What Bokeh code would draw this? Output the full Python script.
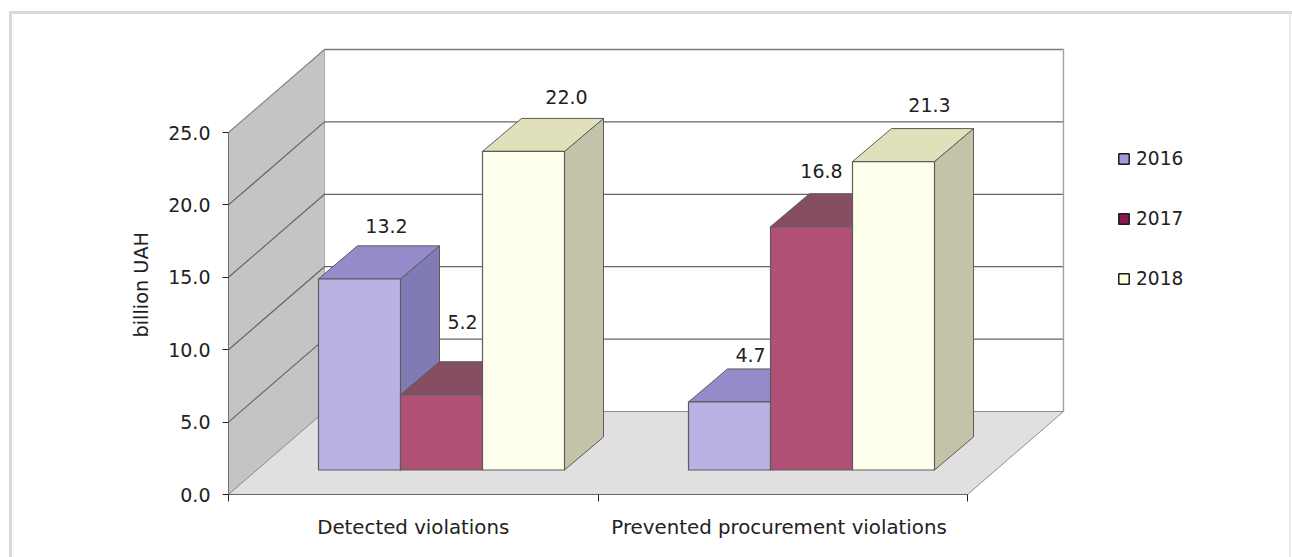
from bokeh.embed import file_html
from bokeh.resources import INLINE
from bokeh.plotting import figure
from bokeh.models import FixedTicker, NumeralTickFormatter, Legend, LegendItem, Range1d, Title
from bokeh.core.properties import value

# ---- data ----
categories = ["Detected violations", "Prevented procurement violations"]
series_names = ["2016", "2017", "2018"]
values_2016 = [13.2, 4.7]
values_2017 = [5.2, 16.8]
values_2018 = [22.0, 21.3]
label_texts = [["13.2", "4.7"], ["5.2", "16.8"], ["22.0", "21.3"]]
y_ticks = [0, 5, 10, 15, 20, 25]
y_title = "billion UAH"

# ---- styles ----
FONT = "DejaVu Sans"
FS_NUM = "19px"
FS_CAT = "19.8px"
FS_LEG = "18.6px"
FS_AX = "19.3px"
TXT = "#222222"
FRONT = ["#b9b3e4", "#b05076", "#feffec"]
TOP = ["#938bca", "#854e63", "#e0e0bb"]
SIDE = ["#807bb5", "#6a3f50", "#c4c2a8"]
SWATCH = ["#a29ad8", "#8a1a4e", "#ffffdc"]
EDGE = "#5c5c5c"

# pixels per data unit, used to derive the plot's scale
PX_X, PX_Y = 369.5, 14.48
W, H = 1292, 557
LEFT, BOTTOM = 228, 63              # frame origin within the canvas

# depth of the box and of the bars in data units
WALL_DX, WALL_DY = 96 / PX_X, 83 / PX_Y
BAR_DX, BAR_DY = 39 / PX_X, 33 / PX_Y
BAR_W = 82 / PX_X
BAR_START = [90 / PX_X, 460 / PX_X]  # left edge of each group
BAR_BASE_DY = 24.5 / PX_Y            # bars stand slightly behind the front edge
# manually moved data labels in the original (pixels from bar's front-centre top)
LABEL_OFF = [[(27, -53), (21, -47)], [(21, -73), (10, -56)], [(43, -54), (36, -57)]]

p = figure(width=W, height=H, output_backend="svg", toolbar_location=None,
           x_range=Range1d(0, (W - LEFT) / PX_X), y_range=Range1d(0, (H - BOTTOM) / PX_Y),
           min_border_left=LEFT, min_border_bottom=BOTTOM, min_border_top=0, min_border_right=0,
           background_fill_color=None, border_fill_color=None, outline_line_color=None)
p.grid.visible = False

# outer page border: top, left and right rules behind the transparent canvas
p.styles = {
    "background-color": "white",
    "background-image": "linear-gradient(#d9d9d9,#d9d9d9),linear-gradient(#d9d9d9,#d9d9d9),linear-gradient(#ececec,#ececec)",
    "background-size": "1283px 3px, 3px 546px, 2px 546px",
    "background-position": "9px 11px, 9px 11px, 1289px 11px",
    "background-repeat": "no-repeat",
}

X_END = 2.0
# left wall, floor
p.patch([0, WALL_DX, WALL_DX, 0], [0, WALL_DY, 25 + WALL_DY, 25],
        fill_color="#c4c4c4", line_color="#a8a8a8", line_width=1)
p.patch([0, WALL_DX, X_END + WALL_DX, X_END], [0, WALL_DY, WALL_DY, 0],
        fill_color="#e0e0e0", line_color="#8c8c8c", line_width=1)

# grid lines on the walls
for t in y_ticks[1:-1]:
    p.line([0, WALL_DX, X_END + WALL_DX], [t, t + WALL_DY, t + WALL_DY],
           line_color="#666666", line_width=1.2)
top_tick = y_ticks[-1]
p.line([0, WALL_DX], [top_tick, top_tick + WALL_DY], line_color="#8a8a8a", line_width=1.2)
p.line([WALL_DX, X_END + WALL_DX], [top_tick + WALL_DY, top_tick + WALL_DY], line_color="#7c7c7c", line_width=1.6)
p.line([X_END + WALL_DX, X_END + WALL_DX], [WALL_DY, 25 + WALL_DY], line_color="#a0a0a0", line_width=1.4)

# bars, painted left to right
all_values = [values_2016, values_2017, values_2018]
for g in range(len(categories)):
    for s in range(len(series_names)):
        v = all_values[s][g]
        x0 = BAR_START[g] + s * BAR_W
        x1 = x0 + BAR_W
        base = BAR_BASE_DY
        top = base + v
        p.patch([x1, x1 + BAR_DX, x1 + BAR_DX, x1], [base, base + BAR_DY, top + BAR_DY, top],
                fill_color=SIDE[s], line_color=EDGE, line_width=1)
        p.patch([x0, x1, x1 + BAR_DX, x0 + BAR_DX], [top, top, top + BAR_DY, top + BAR_DY],
                fill_color=TOP[s], line_color=EDGE, line_width=1)
        p.patch([x0, x1, x1, x0], [base, base, top, top],
                fill_color=FRONT[s], line_color=EDGE, line_width=1.2)

# data labels
for g in range(len(categories)):
    for s in range(len(series_names)):
        v = all_values[s][g]
        xc = BAR_START[g] + (s + 0.5) * BAR_W
        dx, dy = LABEL_OFF[s][g]
        p.text([xc], [BAR_BASE_DY + v], text=[label_texts[s][g]], x_offset=dx, y_offset=dy,
               text_font=value(FONT), text_font_size=FS_NUM, text_color=TXT,
               text_align="center", text_baseline="middle")

# axes
ya = p.yaxis[0]
ya.ticker = FixedTicker(ticks=y_ticks)
ya.formatter = NumeralTickFormatter(format="0.0")
ya.bounds = (0, 25)
ya.major_label_text_font = FONT
ya.major_label_text_font_size = FS_NUM
ya.major_label_text_color = TXT
ya.major_label_standoff = 12
ya.major_tick_in = 0
ya.major_tick_out = 6
ya.minor_tick_line_color = None
ya.major_tick_line_color = "#222222"
ya.axis_line_color = "#707070"

# y axis title sits off-centre in the original, so it is a left-side title with an offset
p.add_layout(Title(text=y_title, align="left", offset=157, standoff=26,
                   text_font=FONT, text_font_size=FS_AX, text_font_style="normal",
                   text_color=TXT), "left")

xa = p.xaxis[0]
xa.ticker = FixedTicker(ticks=[0.5, 1.49], minor_ticks=[0, 1, 2])
xa.major_label_overrides = {0.5: categories[0], 1.49: categories[1]}
xa.bounds = (0, 2)
xa.major_label_text_font = FONT
xa.major_label_text_font_size = FS_CAT
xa.major_label_text_color = TXT
xa.major_label_standoff = 14
xa.major_tick_line_color = None
xa.major_tick_in = 0
xa.major_tick_out = 0
xa.minor_tick_in = 0
xa.minor_tick_out = 7
xa.minor_tick_line_color = "#222222"
xa.axis_line_color = "#666666"

# legend
items = []
nan = float("nan")
for s, name in enumerate(series_names):
    r = p.quad(left=[nan], right=[nan], bottom=[nan], top=[nan],
               fill_color=SWATCH[s], line_color="#1c1c1c", line_width=1.5)
    items.append(LegendItem(label=name, renderers=[r]))
leg = Legend(items=items, location=(889, 205), orientation="vertical",
             background_fill_color=None, border_line_color=None,
             label_text_font=FONT, label_text_font_size=FS_LEG, label_text_color=TXT,
             glyph_width=13, glyph_height=13, label_standoff=6, spacing=39,
             margin=0, padding=0)
p.add_layout(leg)

open("out.html", "w").write(file_html(p, INLINE))
